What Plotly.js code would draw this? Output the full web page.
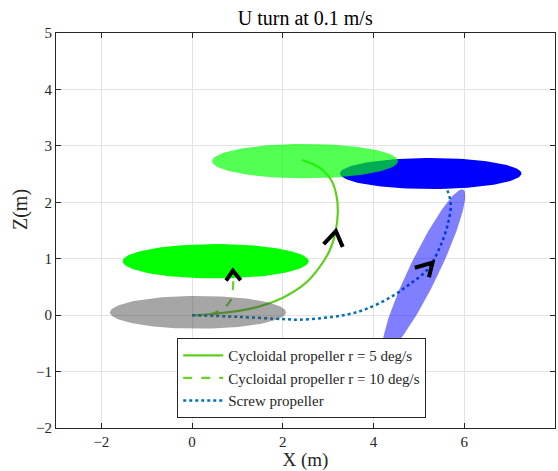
<!DOCTYPE html>
<html>
<head>
<meta charset="utf-8">
<script src="https://cdn.plot.ly/plotly-3.0.1.min.js"></script>
<style>html,body{margin:0;padding:0;background:#fff;}#chart{width:558px;height:471px;}</style>
</head>
<body>
<div id="chart"></div>
<script>
// ---- Trajectories ----
var cyc5X = [0, 0.45, 1.26, 2.0, 2.52, 2.81, 3.03, 3.16, 3.21, 3.19, 3.07, 2.85, 2.66, 2.42];
var cyc5Z = [0, 0.02, 0.11, 0.31, 0.58, 0.85, 1.14, 1.47, 1.79, 2.09, 2.39, 2.59, 2.68, 2.75];

var cyc10X = [0, 0.42, 0.65, 0.79, 0.87, 0.9, 0.91, 0.92];
var cyc10Z = [0, 0.02, 0.1, 0.195, 0.3, 0.46, 0.7, 0.9];

var screwX = [0, 1.0, 2.0, 2.37, 3.1, 3.47, 3.84, 4.36, 4.8, 5.2, 5.46, 5.64, 5.7, 5.61, 5.45];
var screwZ = [0, -0.03, -0.07, -0.08, -0.03, 0.02, 0.11, 0.31, 0.55, 0.82, 1.2, 1.62, 1.97, 2.24, 2.4];

// ---- Direction chevrons (3-point polylines) ----
var arrowDashX = [0.75, 0.9, 1.07];
var arrowDashZ = [0.61, 0.79, 0.62];
var arrowSolidX = [2.90, 3.17, 3.32];
var arrowSolidZ = [1.26, 1.49, 1.21];
var arrowScrewX = [4.91, 5.30, 5.22];
var arrowScrewZ = [0.84, 0.93, 0.67];

// ---- Vehicle ellipses: centre, half-axis vectors ----
var ellNames = ["start", "cyc10", "screwEnd", "cyc5End", "screwMid"];
var ellCx = [0.13, 0.52, 5.26, 2.49, 5.11];
var ellCz = [0.05, 0.955, 2.51, 2.73, 0.79];
var ellUx = [1.94, 2.05, 2.0, 2.05, 0.865];
var ellUz = [0, 0, 0, 0, 1.435];
var ellVx = [0, 0, 0, 0, 0.288];
var ellVz = [0.29, 0.305, 0.275, 0.305, -0.112];
var ellColors = ["rgba(70,70,70,0.48)", "#00ff00", "#0000ff", "rgba(0,255,0,0.68)", "rgba(0,0,255,0.5)"];

var legendLabels = ["Cycloidal propeller r = 5 deg/s", "Cycloidal propeller r = 10 deg/s", "Screw propeller"];

function ellipseTrace(i) {
  var xs = [], zs = [], n = 120;
  for (var k = 0; k <= n; k++) {
    var t = 2 * Math.PI * k / n;
    xs.push(ellCx[i] + ellUx[i] * Math.cos(t) + ellVx[i] * Math.sin(t));
    zs.push(ellCz[i] + ellUz[i] * Math.cos(t) + ellVz[i] * Math.sin(t));
  }
  return {x: xs, y: zs, type: 'scatter', mode: 'lines', fill: 'toself',
          fillcolor: ellColors[i], line: {width: 0, color: ellColors[i]},
          showlegend: false, hoverinfo: 'skip', name: ellNames[i]};
}
function chevron(xs, zs) {
  return {x: xs, y: zs, type: 'scatter', mode: 'lines',
          line: {color: '#000000', width: 4}, showlegend: false, hoverinfo: 'skip'};
}

var traces = [
  {x: cyc5X, y: cyc5Z, type: 'scatter', mode: 'lines', name: legendLabels[0],
   line: {color: '#5fd01e', width: 2.2, shape: 'spline'}},
  {x: cyc10X, y: cyc10Z, type: 'scatter', mode: 'lines', name: legendLabels[1],
   line: {color: '#66d42a', width: 2.2, dash: 'dash', shape: 'spline'}},
  {x: screwX, y: screwZ, type: 'scatter', mode: 'lines', name: legendLabels[2],
   line: {color: '#0072bd', width: 2.5, dash: 'dot', shape: 'spline'}},
  ellipseTrace(0), ellipseTrace(1), ellipseTrace(2), ellipseTrace(3), ellipseTrace(4),
  chevron(arrowDashX, arrowDashZ), chevron(arrowSolidX, arrowSolidZ), chevron(arrowScrewX, arrowScrewZ)
];

var serif = "'Liberation Serif', 'DejaVu Serif', serif";
var axisCommon = {
  showline: true, linecolor: '#262626', linewidth: 1, mirror: 'ticks',
  ticks: 'inside', ticklen: 5, tickcolor: '#262626',
  showgrid: true, gridcolor: '#e3e3e3', gridwidth: 1, zeroline: false,
  tickfont: {family: serif, size: 15, color: '#262626'}
};

var layout = {
  width: 558, height: 471,
  margin: {l: 56, r: 3, t: 33, b: 43},
  paper_bgcolor: '#ffffff', plot_bgcolor: '#ffffff',
  title: {text: 'U turn at 0.1 m/s', font: {family: serif, size: 20, color: '#000000'},
          x: 0.547, xref: 'container', xanchor: 'center', y: 0.962, yref: 'container', yanchor: 'middle'},
  xaxis: Object.assign({}, axisCommon, {range: [-3, 8], tick0: 0, dtick: 2,
    title: {text: 'X (m)', font: {family: serif, size: 19, color: '#262626'}, standoff: 5}}),
  yaxis: Object.assign({}, axisCommon, {range: [-2, 5], tick0: 0, dtick: 1}),
  annotations: [{text: 'Z(m)', textangle: -90, xref: 'paper', yref: 'paper',
    x: -0.07, y: 0.552, xanchor: 'center', yanchor: 'middle', showarrow: false,
    font: {family: serif, size: 20, color: '#262626'}}],
  legend: {x: 0.243, y: 0.025, xanchor: 'left', yanchor: 'bottom',
    bgcolor: '#ffffff', bordercolor: '#262626', borderwidth: 1, itemwidth: 40,
    font: {family: serif, size: 15, color: '#262626'}, tracegroupgap: 0},
  showlegend: true
};

Plotly.newPlot('chart', traces, layout, {displayModeBar: false, staticPlot: true});
</script>
</body>
</html>
